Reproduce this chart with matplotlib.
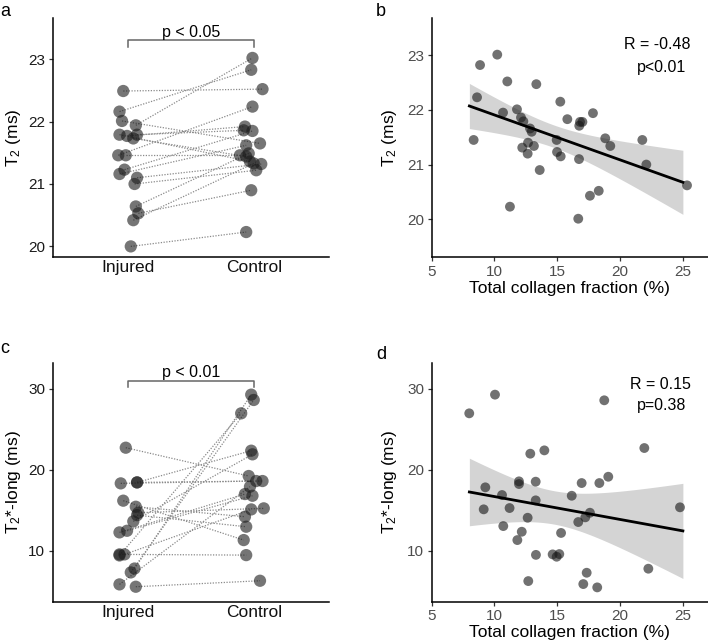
import numpy as np
import matplotlib
matplotlib.use("Agg")
import matplotlib.pyplot as plt

plt.rcParams['font.family'] = ['Liberation Sans', 'DejaVu Sans']
plt.rcParams['mathtext.default'] = 'regular'

# ---------------- data ----------------
groups = ["Injured", "Control"]

# Panel a: T2 (ms), paired
t2_injured = [22.49, 22.16, 22.01, 21.94, 21.79, 21.77, 21.73, 21.79, 21.46,
              21.46, 21.23, 21.16, 21.10, 21.00, 20.64, 20.53, 20.42, 20.00]
t2_control = [22.52, 22.83, 21.65, 23.02, 21.36, 21.92, 21.44, 21.86, 22.24,
              21.46, 21.85, 21.62, 21.32, 21.22, 21.49, 20.90, 21.33, 20.23]
t2_injured_jitter = [-0.04, -0.07, -0.05, 0.06, -0.07, -0.01, 0.04, 0.07, -0.08,
                     -0.02, -0.03, -0.07, 0.07, 0.05, 0.06, 0.08, 0.04, 0.02]
t2_control_jitter = [0.07, -0.02, 0.05, -0.01, -0.03, -0.07, -0.06, -0.08, -0.01,
                     -0.11, -0.01, -0.06, 0.06, 0.02, -0.04, -0.02, 0.00, -0.06]

# Panel c: T2*-long (ms), paired
t2s_injured = [22.74, 18.33, 18.45, 18.45, 16.19, 15.44, 14.70, 14.40, 13.63,
               12.27, 12.47, 9.55, 9.55, 9.42, 7.32, 7.80, 5.84, 5.55]
t2s_control = [19.24, 18.62, 22.37, 18.62, 11.32, 14.21, 15.24, 12.97, 21.92,
               17.01, 16.80, 9.46, 15.11, 26.99, 28.64, 29.30, 17.92, 6.29]
t2s_injured_jitter = [-0.02, -0.06, 0.07, 0.07, -0.04, 0.06, 0.08, 0.07, 0.04,
                      -0.07, -0.01, -0.07, -0.03, -0.07, 0.02, 0.05, -0.07, 0.06]
t2s_control_jitter = [-0.04, 0.02, -0.02, 0.07, -0.08, -0.07, 0.08, -0.06, -0.01,
                      -0.07, -0.01, -0.06, -0.02, -0.10, 0.00, -0.02, -0.03, 0.05]

# Panel b: collagen fraction (%) vs T2 (ms)
b_collagen = [10.22, 8.85, 11.02, 13.33, 8.61, 15.24, 11.79, 10.68, 15.80, 12.11,
              12.30, 12.83, 12.96, 8.34, 14.95, 12.67, 13.14, 12.21, 12.64, 14.98,
              15.27, 13.60, 11.23, 17.84, 16.81, 17.00, 16.75, 18.82, 21.77, 19.22,
              16.73, 22.09, 25.33, 18.30, 17.60, 16.67]
b_t2 = [23.01, 22.82, 22.52, 22.47, 22.23, 22.15, 22.01, 21.95, 21.83, 21.86,
        21.79, 21.66, 21.60, 21.45, 21.45, 21.40, 21.34, 21.31, 21.20, 21.23,
        21.15, 20.90, 20.23, 21.94, 21.78, 21.78, 21.71, 21.48, 21.45, 21.34,
        21.10, 21.00, 20.62, 20.52, 20.43, 20.01]

# Panel d: collagen fraction (%) vs T2*-long (ms)
d_collagen = [10.04, 7.99, 12.85, 13.97, 9.27, 11.95, 11.95, 13.28, 10.60, 13.28,
              9.14, 11.20, 12.64, 10.70, 12.17, 11.82, 15.30, 13.30, 14.63, 15.16,
              14.95, 12.69, 18.74, 21.93, 16.94, 18.35, 19.06, 16.15, 24.77, 17.60,
              17.23, 16.67, 17.34, 22.25, 17.07, 18.18]
d_t2s = [29.30, 26.99, 22.00, 22.41, 17.84, 18.58, 18.25, 18.54, 16.89, 16.23,
         15.12, 15.28, 14.08, 13.05, 12.35, 11.32, 12.20, 9.49, 9.55, 9.59,
         9.26, 6.25, 28.60, 22.70, 18.37, 18.37, 19.15, 16.80, 15.37, 14.70,
         14.13, 13.55, 7.28, 7.78, 5.88, 5.47]

fit_range = (8.0, 25.0)
t_crit = 2.032  # t(0.975, df=34)

b_stats = ["R = -0.48", "p<0.01"]
d_stats = ["R = 0.15", "p=0.38"]
a_sig = "p < 0.05"
c_sig = "p < 0.01"

# ---------------- figure ----------------
W, H = 708, 644
fig = plt.figure(figsize=(W / 100, H / 100), dpi=100)

def ax_at(l, b, r, t):
    return fig.add_axes([l / W, 1 - b / H, (r - l) / W, (b - t) / H])

axA = ax_at(53, 257, 329, 18)
axB = ax_at(431.7, 257, 708, 18)
axC = ax_at(53, 601.7, 329, 362.7)
axD = ax_at(431.7, 601.7, 708, 362.7)

pt_color = '#1a1a1a'

def style(ax, tickcolor):
    for s in ['top', 'right']:
        ax.spines[s].set_visible(False)
    for s in ['left', 'bottom']:
        ax.spines[s].set_linewidth(1.1)
        ax.spines[s].set_color('black')
    ax.tick_params(length=3, width=0.9, color='#333333', labelsize=11,
                   labelcolor=tickcolor, pad=2.5)


def paired(ax, inj, con, jin, jco, ylim, yticks, ylabel, sig, brk_y, brk_drop, txt_y):
    xi = [0 + j for j in jin]
    xc = [1 + j for j in jco]
    for a, b_, ya, yb in zip(xi, xc, inj, con):
        ax.plot([a, b_], [ya, yb], ls=(0, (1, 1.2)), color='#8a8a8a', lw=0.9, zorder=1)
    ax.scatter(xi, inj, s=78, color=pt_color, alpha=0.6, edgecolors='none', zorder=3)
    ax.scatter(xc, con, s=78, color=pt_color, alpha=0.6, edgecolors='none', zorder=3)
    ax.set_xlim(-0.6, 1.6)
    ax.set_xticks([0, 1])
    ax.set_xticklabels(groups, fontsize=12.5, color='#111111')
    ax.set_ylim(*ylim)
    ax.set_yticks(yticks)
    ax.set_ylabel(ylabel, fontsize=12.5, labelpad=4)
    ax.plot([0, 0, 1, 1], [brk_y - brk_drop, brk_y, brk_y, brk_y - brk_drop],
            color='#666666', lw=1.1, zorder=2)
    ax.text(0.5, txt_y, sig, ha='center', va='center', fontsize=11.5)


def scatter_fit(ax, x, y, ylim, yticks, ylabel, stats, stat_y):
    x = np.asarray(x); y = np.asarray(y)
    n = len(x)
    slope, icpt = np.polyfit(x, y, 1)
    resid = y - (slope * x + icpt)
    s = np.sqrt(np.sum(resid ** 2) / (n - 2))
    xbar = x.mean(); sxx = np.sum((x - xbar) ** 2)
    xs = np.linspace(fit_range[0], fit_range[1], 200)
    yf = slope * xs + icpt
    se = s * np.sqrt(1.0 / n + (xs - xbar) ** 2 / sxx)
    ax.fill_between(xs, yf - t_crit * se, yf + t_crit * se, color='#d4d4d4',
                    lw=0, zorder=1)
    ax.scatter(x, y, s=50, color=pt_color, alpha=0.62, edgecolors='none', zorder=2)
    ax.plot(xs, yf, color='black', lw=2.0, zorder=3)
    ax.set_xlim(5, 27)
    ax.set_xticks([5, 10, 15, 20, 25])
    ax.set_ylim(*ylim)
    ax.set_yticks(yticks)
    ax.set_ylabel(ylabel, fontsize=12.5, labelpad=6)
    ax.set_xlabel("Total collagen fraction (%)", fontsize=12.5, labelpad=1.5)
    ax.text(25.6, stat_y[0], stats[0], ha='right', va='center', fontsize=11.5)
    ax.text(25.3, stat_y[1], stats[1], ha='right', va='center', fontsize=11.5)


style(axA, '#1a1a1a')
style(axC, '#1a1a1a')
style(axB, '#4d4d4d')
style(axD, '#4d4d4d')

paired(axA, t2_injured, t2_control, t2_injured_jitter, t2_control_jitter,
       (19.83, 23.66), [20, 21, 22, 23], 'T$_2$ (ms)', a_sig, 23.30, 0.10, 23.43)
paired(axC, t2s_injured, t2s_control, t2s_injured_jitter, t2s_control_jitter,
       (3.7, 33.25), [10, 20, 30], 'T$_2$*-long (ms)', c_sig, 31.03, 0.75, 32.0)
axA.tick_params(axis='x', length=0)
axC.tick_params(axis='x', length=0)

scatter_fit(axB, b_collagen, b_t2, (19.31, 23.68), [20, 21, 22, 23], 'T$_2$ (ms)',
            b_stats, (23.19, 22.78))
scatter_fit(axD, d_collagen, d_t2s, (3.7, 33.25), [10, 20, 30], 'T$_2$*-long (ms)',
            d_stats, (30.6, 28.0))

fig.text(0 / W, 1 - 16 / H, 'a', fontsize=13)
fig.text(376 / W, 1 - 16 / H, 'b', fontsize=13)
fig.text(0 / W, 1 - 353 / H, 'c', fontsize=13)
fig.text(376 / W, 1 - 359 / H, 'd', fontsize=13)

fig.savefig('out.png', dpi=100)
